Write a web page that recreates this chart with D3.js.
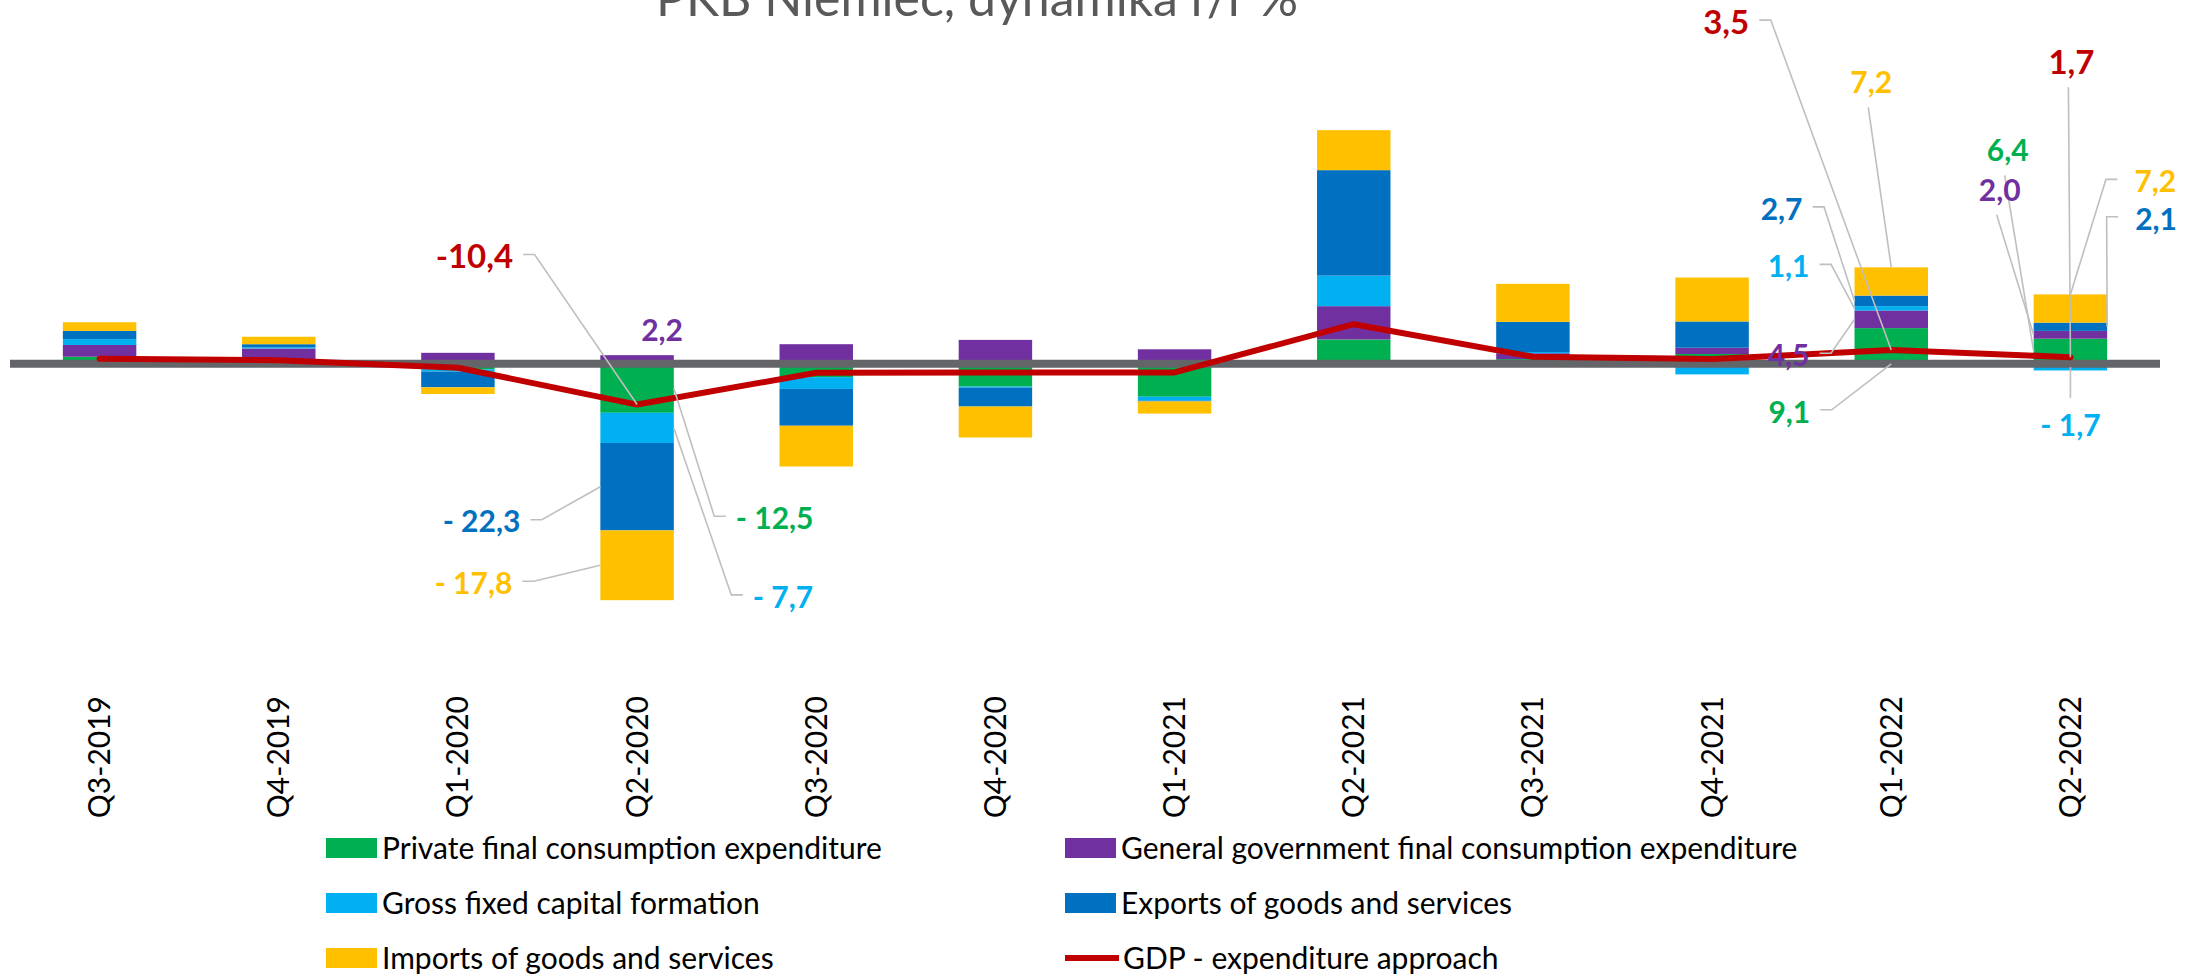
<!DOCTYPE html>
<html>
<head>
<meta charset="utf-8">
<script src="https://cdn.jsdelivr.net/npm/d3@7"></script>
<style>
  html, body { margin: 0; padding: 0; background: #fff; }
  svg { display: block; font-family: Lato, "Open Sans", sans-serif; }
</style>
</head>
<body>
<svg id="chart" width="2202" height="974"></svg>
<script>
"use strict";

// data, y/y change in %
var quarters = ["Q3-2019", "Q4-2019", "Q1-2020", "Q2-2020", "Q3-2020", "Q4-2020",
                "Q1-2021", "Q2-2021", "Q3-2021", "Q4-2021", "Q1-2022", "Q2-2022"];
var privateCons = [1.8, 0.5, -1.4, -12.5, -3.4, -5.8, -8.4, 6.2, 1.2, 2.5, 9.1, 6.4];
var govCons     = [3.0, 3.4, 2.8, 2.2, 5.0, 6.1, 3.7, 8.5, 1.5, 1.6, 4.5, 2.0];
var gfcf        = [1.5, 0.3, -0.6, -7.7, -3.0, -0.3, -1.0, 7.8, 0.3, -2.7, 1.1, -1.7];
var exportsGS   = [2.1, 0.8, -4.0, -22.3, -9.4, -4.8, -0.2, 26.9, 7.7, 6.7, 2.7, 2.1];
var importsGS   = [2.2, 1.9, -1.7, -17.8, -10.4, -7.9, -3.1, 10.2, 9.7, 11.2, 7.2, 7.2];
var gdp         = [1.3, 0.9, -1.0, -10.4, -2.3, -2.2, -2.2, 10.1, 1.8, 1.2, 3.5, 1.7];

var seriesNames = ["Private final consumption expenditure",
                   "General government final consumption expenditure",
                   "Gross fixed capital formation",
                   "Exports of goods and services",
                   "Imports of goods and services"];
var gdpName = "GDP - expenditure approach";
var title = "PKB Niemiec, dynamika r/r %";

var colors = ["#00B050", "#7030A0", "#00B0F0", "#0070C0", "#FFC000"];
var gdpColor = "#C00000";

// which values get a label, and where the label sits relative to its anchor
// at: point | left | right | top | base | mid ; side: where the leader leaves the text
var callouts = [
    {s: -1, i: 3, at: "point", dx: -124, dy: -148, side: "end"},
    {s: 1, i: 3, at: "top", dx: 25, dy: -25, side: "none"},
    {s: 3, i: 3, at: "left", dx: -80, dy: 35, side: "end"},
    {s: 4, i: 3, at: "left", dx: -88, dy: 18, side: "end"},
    {s: 0, i: 3, at: "right", dx: 62, dy: 130, side: "start"},
    {s: 2, i: 3, at: "right", dx: 79, dy: 169, side: "start"},
    {s: -1, i: 10, at: "point", dx: -142, dy: -328, side: "end"},
    {s: 4, i: 10, at: "top", dx: -20, dy: -185, side: "below"},
    {s: 3, i: 10, at: "left", dx: -52, dy: -92, side: "end"},
    {s: 2, i: 10, at: "left", dx: -45, dy: -42, side: "end"},
    {s: 1, i: 10, at: "left", dx: -45, dy: 36, side: "end"},
    {s: 0, i: 10, at: "base", dx: -81, dy: 48, side: "end"},
    {s: -1, i: 11, at: "point", dx: 1, dy: -295, side: "below"},
    {s: 0, i: 11, at: "left", dx: -26, dy: -201, side: "below"},
    {s: 1, i: 11, at: "left", dx: -34, dy: -145, side: "below"},
    {s: 4, i: 11, at: "top", dx: 64, dy: -113, side: "start", gap: 17},
    {s: 3, i: 11, at: "right", dx: 28, dy: -108, side: "start", gap: 17},
    {s: 2, i: 11, at: "mid", dx: 0, dy: 58, side: "above"}
];

var svg = d3.select("#chart");

var x = d3.scaleBand()
    .domain(quarters)
    .range([10, 2160])
    .paddingInner(0.59)
    .paddingOuter(0.295);

var y = d3.scaleLinear()
    .domain([-80, 80])
    .range([677.4, 50.2]);

var keys = ["p", "g", "f", "e", "m"];
var table = quarters.map(function(q, i) {
    return {q: q, p: privateCons[i], g: govCons[i], f: gfcf[i], e: exportsGS[i], m: importsGS[i]};
});

var stacked = d3.stack()
    .keys(keys)
    .offset(d3.stackOffsetDiverging)(table);

// title, cut by the top edge like in the original
svg.append("text")
    .attr("x", 977)
    .attr("y", 16)
    .attr("text-anchor", "middle")
    .style("font-size", "50px")
    .style("fill", "#595959")
    .text(title);

// stacked bars
svg.append("g").selectAll("g")
    .data(stacked)
    .join("g")
    .attr("fill", function(d, k) { return colors[k]; })
    .selectAll("rect")
    .data(function(d) { return d; })
    .join("rect")
    .attr("x", function(d) { return x(d.data.q); })
    .attr("width", x.bandwidth())
    .attr("y", function(d) { return y(Math.max(d[0], d[1])); })
    .attr("height", function(d) { return Math.abs(y(d[0]) - y(d[1])); });

// thick zero line
svg.append("line")
    .attr("x1", x.range()[0])
    .attr("x2", x.range()[1])
    .attr("y1", y(0))
    .attr("y2", y(0))
    .attr("stroke", "#636568")
    .attr("stroke-width", 8);

// category labels, rotated, below the plot
var xAxis = svg.append("g")
    .attr("transform", "translate(0,696)")
    .call(d3.axisBottom(x).tickSize(0));
xAxis.select(".domain").remove();
xAxis.selectAll("text")
    .attr("x", 0)
    .attr("y", 0)
    .attr("dy", "0.35em")
    .attr("transform", "rotate(-90)")
    .style("text-anchor", "end")
    .style("font-size", "30px")
    .style("font-family", "Lato, 'Open Sans', sans-serif")
    .style("fill", "#000");

// GDP line
var gdpLine = d3.line()
    .x(function(d, i) { return x(quarters[i]) + x.bandwidth() / 2; })
    .y(function(d) { return y(d); });

svg.append("path")
    .datum(gdp)
    .attr("d", gdpLine)
    .attr("fill", "none")
    .attr("stroke", gdpColor)
    .attr("stroke-width", 6)
    .attr("stroke-linejoin", "round")
    .attr("stroke-linecap", "round");

// number formats: components get "- 1,7", GDP gets "-10,4"
var fmt = d3.format(".1f");
function partLabel(v) {
    return (v < 0 ? "- " : "") + fmt(Math.abs(v)).replace(".", ",");
}
function gdpLabel(v) {
    return fmt(v).replace(".", ",").replace("\u2212", "-");
}

function anchorOf(c) {
    var left = x(quarters[c.i]);
    var cx = left + x.bandwidth() / 2;
    if (c.s < 0) return [cx, y(gdp[c.i])];
    var seg = stacked[c.s][c.i];
    var mid = y((seg[0] + seg[1]) / 2);
    if (c.at === "left") return [left, mid];
    if (c.at === "right") return [left + x.bandwidth(), mid];
    if (c.at === "top") return [cx, y(seg[1])];
    if (c.at === "base") return [cx, y(seg[0])];
    return [cx, mid];
}

var leaders = svg.append("g")
    .attr("fill", "none")
    .attr("stroke", "#BFBFBF")
    .attr("stroke-width", 1.6);
var labels = svg.append("g")
    .style("font-weight", "bold");

callouts.forEach(function(c) {
    var a = anchorOf(c);
    var tx = a[0] + c.dx, ty = a[1] + c.dy;
    var gap = c.gap || 10;
    var pts = null;
    if (c.side === "end") pts = [[tx + gap, ty - 2], [tx + gap + 11.5, ty - 2], a];
    if (c.side === "start") pts = [[tx - gap, ty - 2], [tx - gap - 11.5, ty - 2], a];
    if (c.side === "below") pts = [[tx - 3, ty + 25], a];
    if (c.side === "above") pts = [[tx, ty - 27], a];
    if (pts) leaders.append("path").attr("d", d3.line()(pts));

    var isGdp = c.s < 0;
    var v = isGdp ? gdp[c.i] : [privateCons, govCons, gfcf, exportsGS, importsGS][c.s][c.i];
    labels.append("text")
        .attr("x", tx)
        .attr("y", ty)
        .attr("dy", "0.36em")
        .attr("text-anchor", c.side === "end" ? "end" : c.side === "start" ? "start" : "middle")
        .style("font-size", isGdp ? "33px" : "30px")
        .style("fill", isGdp ? gdpColor : colors[c.s])
        .text(isGdp ? gdpLabel(v) : partLabel(v));
});

// legend, two columns
var legendItems = seriesNames.map(function(n, k) { return {name: n, color: colors[k], line: false}; });
legendItems.push({name: gdpName, color: gdpColor, line: true});

var legend = svg.append("g").selectAll("g")
    .data(legendItems)
    .join("g")
    .attr("transform", function(d, k) {
        return "translate(" + (k % 2 ? 1065 : 326) + "," + (848 + Math.floor(k / 2) * 55) + ")";
    });

legend.filter(function(d) { return !d.line; })
    .append("rect")
    .attr("x", 0)
    .attr("y", -10)
    .attr("width", 51)
    .attr("height", 20)
    .attr("fill", function(d) { return d.color; });

legend.filter(function(d) { return d.line; })
    .append("line")
    .attr("x1", 0)
    .attr("x2", 54)
    .attr("stroke", function(d) { return d.color; })
    .attr("stroke-width", 6);

legend.append("text")
    .attr("x", function(d) { return d.line ? 58 : 56; })
    .attr("dy", "0.35em")
    .style("font-size", "30px")
    .style("fill", "#000")
    .text(function(d) { return d.name; });
</script>
</body>
</html>
